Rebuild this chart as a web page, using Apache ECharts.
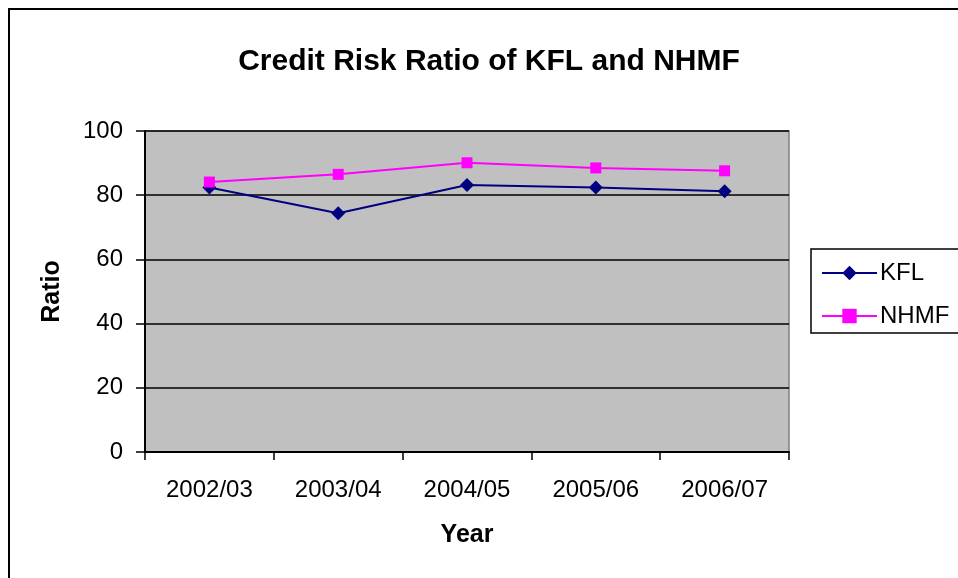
<!DOCTYPE html>
<html>
<head>
<meta charset="utf-8">
<script src="https://cdn.jsdelivr.net/npm/echarts@6/dist/echarts.min.js"></script>
<style>
  html, body { margin: 0; padding: 0; background: #fff; }
  #chart { width: 958px; height: 578px; }
</style>
</head>
<body>
<div id="chart"></div>
<script>
const years = ["2002/03", "2003/04", "2004/05", "2005/06", "2006/07"];
const kfl = [82.4, 74.4, 83.2, 82.4, 81.2];
const nhmf = [84.1, 86.5, 90.1, 88.5, 87.6];

const chart = echarts.init(document.getElementById("chart"));
const font = "Liberation Sans, Arial, sans-serif";

chart.setOption({
  animation: false,
  textStyle: { fontFamily: font },
  title: {
    text: "Credit Risk Ratio of KFL and NHMF",
    left: 484,
    top: 42,
    textAlign: "center",
    textStyle: { fontSize: 30, fontWeight: "bold", color: "#000", fontFamily: font },
  },
  graphic: [
    {
      // outer chart border, runs off the right and bottom edges
      type: "rect",
      shape: { x: 9, y: 9, width: 980, height: 600 },
      style: { fill: "none", stroke: "#000", lineWidth: 2 },
      silent: true,
      z: -10,
    },
  ],
  legend: {
    orient: "vertical",
    left: 811,
    top: 249,
    width: 180,
    padding: [12, 60, 5, 10],
    itemGap: 19,
    itemWidth: 55,
    itemHeight: 18,
    borderColor: "#000",
    borderWidth: 1.5,
    textStyle: { fontSize: 24, color: "#000", fontFamily: font, padding: [0, 0, 0, -2] },
    data: ["KFL", "NHMF"],
  },
  grid: {
    left: 145,
    top: 131,
    width: 644,
    height: 321,
    show: true,
    backgroundColor: "#c0c0c0",
    borderColor: "#808080",
    borderWidth: 1.5,
  },
  xAxis: {
    type: "category",
    data: years,
    boundaryGap: true,
    name: "Year",
    nameLocation: "middle",
    nameGap: 71,
    nameTextStyle: { fontSize: 25, fontWeight: "bold", color: "#000", fontFamily: font },
    axisLine: { lineStyle: { color: "#000", width: 2 } },
    axisTick: { show: true, length: 8, lineStyle: { color: "#000", width: 1.5 } },
    axisLabel: { fontSize: 24, color: "#000", margin: 26, fontFamily: font },
  },
  yAxis: {
    type: "value",
    min: 0,
    max: 100,
    interval: 20,
    name: "Ratio",
    nameLocation: "middle",
    nameGap: 80,
    nameRotate: 90,
    nameTextStyle: { fontSize: 25, fontWeight: "bold", color: "#000", fontFamily: font },
    axisLine: { show: true, lineStyle: { color: "#000", width: 2 } },
    axisTick: { show: true, length: 9, lineStyle: { color: "#000", width: 1.5 } },
    axisLabel: { fontSize: 24, color: "#000", margin: 22, fontFamily: font },
    splitLine: { lineStyle: { color: "#000", width: 1.5 } },
  },
  series: [
    {
      name: "KFL",
      type: "line",
      data: kfl,
      symbol: "diamond",
      symbolSize: 14,
      color: "#000080",
      lineStyle: { color: "#000080", width: 2 },
      itemStyle: { color: "#000080" },
    },
    {
      name: "NHMF",
      type: "line",
      data: nhmf,
      symbol: "rect",
      symbolSize: 11,
      color: "#ff00ff",
      lineStyle: { color: "#ff00ff", width: 2 },
      itemStyle: { color: "#ff00ff" },
    },
  ],
});
</script>
</body>
</html>
